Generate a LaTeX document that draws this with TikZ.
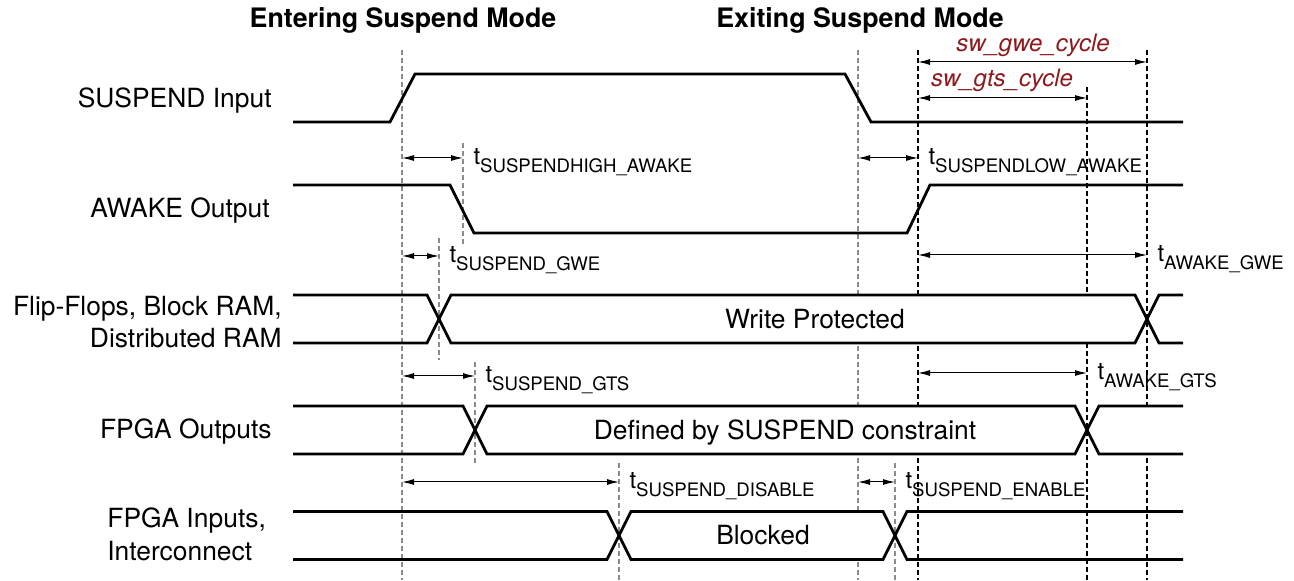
\documentclass[tikz,border=0pt]{standalone}
\usepackage{fontspec}
\setmainfont{TeX Gyre Heros}
\usetikzlibrary{arrows.meta}
\definecolor{swred}{RGB}{140,26,30}
\newcommand{\tname}[1]{{\fontsize{12}{14}\selectfont t}\raisebox{-3.8pt}{\fontsize{9.3}{11}\selectfont #1}}

\begin{document}
\begin{tikzpicture}[x=0.5pt,y=-0.5pt,
  sig/.style={line width=1.4pt,line join=miter},
  gdash/.style={draw=black!45,line width=1.25pt,dash pattern=on 2.6pt off 1.4pt},
  bdash/.style={line width=0.55pt,dash pattern=on 2.6pt off 1.4pt},
  dim/.style={line width=0.5pt,{Latex[length=6pt,width=3pt]}-{Latex[length=6pt,width=3pt]}},
  txt/.style={font=\fontsize{13.2}{16}\selectfont,inner sep=0pt},
  tlab/.style={anchor=base west,inner sep=0pt,xshift=5pt,yshift=-3.3pt},
  sw/.style={font=\fontsize{12}{14}\selectfont\itshape,text=swred,inner sep=0pt,anchor=base}]
 \useasboundingbox (0,0) rectangle (1294,581);

 \node[txt,font=\fontsize{13.4}{16}\selectfont\bfseries,anchor=base] (enter) at (403,28) {Entering Suspend Mode};
 \node[txt,font=\fontsize{13.4}{16}\selectfont\bfseries,anchor=base] (exit) at (860,28) {Exiting Suspend Mode};

 % signal names
 \node[txt,anchor=base east] (susp) at (272,108) {SUSPEND Input};
 \node[txt,anchor=base east] (awake) at (270,218) {AWAKE Output};
 \node[txt,anchor=base east] (ff1) at (282,316) {Flip-Flops, Block RAM,};
 \node[txt,anchor=base east] (ff2) at (282,348) {Distributed RAM};
 \node[txt,anchor=base east] (fout) at (272,439) {FPGA Outputs};
 \node[txt,anchor=base west] (fin1) at (107,528) {FPGA Inputs,};
 \node[txt,anchor=base west] (fin2) at (107,560) {Interconnect};

 % markers
 \foreach \x/\ya/\yb in {402/50/580, 858/50/580, 463/143/245, 439/238/360, 475/362/465, 619/463/580, 895/463/580}
   \draw[gdash] (\x,\ya) -- (\x,\yb);
 \foreach \x/\ya in {918/50, 1087/87, 1147/50}
   \draw[bdash] (\x,\ya) -- (\x,580);

 \draw[sig] (293,122) -- (390,122) -- (415,74) -- (845,74) -- (871,122) -- (1183,122); %SUSPEND
 \draw[sig] (293,185) -- (450,185) -- (474,233) -- (907,233) -- (930,185) -- (1183,185); %AWAKE

 % buses
 \fill[white] (1087,430) -- (1099,406) -- (1183,406) -- (1183,454) -- (1099,454) -- cycle;
 \foreach \yc/\xa/\xb in {319/439/1147, 430/475/1087, 535.5/619/895} {
   \fill[white] (\xa,\yc) -- (\xa+12,\yc-24) -- (\xb-12,\yc-24) -- (\xb,\yc) -- (\xb-12,\yc+24) -- (\xa+12,\yc+24) -- cycle;
   \draw[sig] (293,\yc-24) -- (\xa-12,\yc-24) -- (\xa+12,\yc+24) -- (\xb-12,\yc+24) -- (\xb+12,\yc-24) -- (1183,\yc-24);
   \draw[sig] (293,\yc+24) -- (\xa-12,\yc+24) -- (\xa+12,\yc-24) -- (\xb-12,\yc-24) -- (\xb+12,\yc+24) -- (1183,\yc+24);
 }
 \node[txt,anchor=base] (wp) at (815,329) {Write Protected};
 \node[txt,anchor=base] (def) at (785,440) {Defined by SUSPEND constraint};
 \node[txt,anchor=base] (blk) at (763,545) {Blocked};

 % timing
 \foreach \n/\xa/\xb/\y/\s in {hi/402/463/158/SUSPENDHIGH\_AWAKE, lo/858/918/158/SUSPENDLOW\_AWAKE,
     sgwe/402/439/256/SUSPEND\_GWE, agwe/918/1147/255/AWAKE\_GWE,
     sgts/402/475/376/SUSPEND\_GTS, agts/918/1087/373/AWAKE\_GTS,
     dis/402/619/482/SUSPEND\_DISABLE, en/858/895/482/SUSPEND\_ENABLE} {
   \coordinate (\n A) at (\xa,\y);
   \coordinate (\n B) at (\xb,\y);
   \draw[dim] (\n A) -- (\n B) node[tlab] (\n L) {\tname{\s}};
 }
 \coordinate (gweA) at (918,62); \coordinate (gweB) at (1147,62);
 \draw[dim] (gweA) -- (gweB);
 \node[sw] (gweL) at (1033,52) {sw\_gwe\_cycle};
 \coordinate (gtsA) at (918,98); \coordinate (gtsB) at (1087,98);
 \draw[dim] (gtsA) -- (gtsB);
 \node[sw] (gtsL) at (1002,87) {sw\_gts\_cycle};
\end{tikzpicture}
\end{document}
